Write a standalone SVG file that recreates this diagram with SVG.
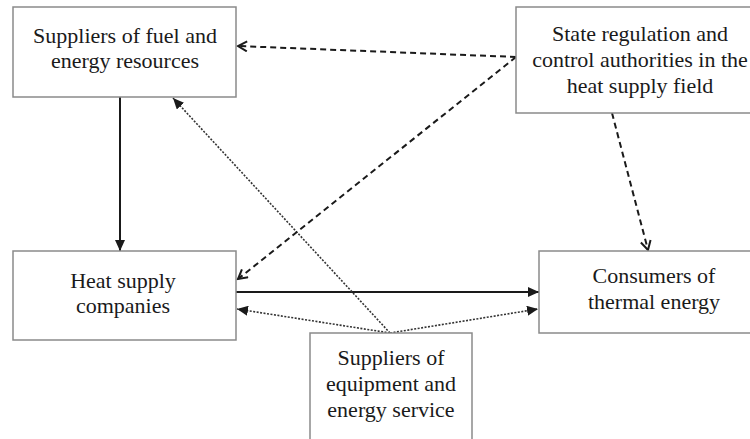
<svg xmlns="http://www.w3.org/2000/svg" width="750" height="439" viewBox="0 0 750 439">
<style>
.box{fill:#fff;stroke:#8a8a8a;stroke-width:1.5}
text{font-family:'Liberation Serif','Times New Roman',Times,serif;font-size:22px;fill:#1a1a1a;text-anchor:middle}
.solid{stroke:#1a1a1a;stroke-width:2;fill:none}
.dot{stroke:#333;stroke-width:1.6;stroke-dasharray:2 1.5;fill:none}
.dash{stroke:#1a1a1a;stroke-width:2;stroke-dasharray:6 4;fill:none}
</style>
<defs>
<marker id="fill" markerUnits="userSpaceOnUse" markerWidth="12" markerHeight="10" refX="11" refY="5" orient="auto">
<path d="M0,0 L11,5 L0,10 Z" fill="#1a1a1a"/>
</marker>
<marker id="open" markerUnits="userSpaceOnUse" markerWidth="12" markerHeight="12" refX="10" refY="6" orient="auto">
<path d="M1,1 L10,6 L1,11" fill="none" stroke="#1a1a1a" stroke-width="2"/>
</marker>
</defs>
<rect width="750" height="439" fill="#fff"/>
<g id="connectors">
<line class="solid" x1="120" y1="97" x2="120" y2="251" marker-end="url(#fill)"/>
<line class="solid" x1="236" y1="292" x2="539" y2="292" marker-end="url(#fill)"/>
<line class="dot" x1="390" y1="333" x2="237" y2="309" marker-end="url(#fill)"/>
<line class="dot" x1="390" y1="333" x2="538" y2="309" marker-end="url(#fill)"/>
<line class="dot" x1="390" y1="333" x2="173" y2="98" marker-end="url(#fill)"/>
<line class="dash" x1="516" y1="57" x2="238" y2="46" marker-end="url(#open)"/>
<line class="dash" x1="516" y1="57" x2="238" y2="279" marker-end="url(#open)"/>
<line class="dash" x1="612" y1="113" x2="648" y2="250" marker-end="url(#open)"/>
</g>
<g id="fuel" font-family="Liberation Serif, serif">
<rect class="box" x="13" y="7" width="223" height="90"/>
<text x="125" y="43">Suppliers of fuel and</text>
<text x="125" y="68">energy resources</text>
</g>
<g id="state">
<rect class="box" x="516" y="7" width="248" height="106"/>
<text x="640" y="41">State regulation and</text>
<text x="640" y="67">control authorities in the</text>
<text x="640" y="93">heat supply field</text>
</g>
<g id="heat">
<rect class="box" x="13" y="251" width="223" height="89"/>
<text x="123" y="288">Heat supply</text>
<text x="123" y="313">companies</text>
</g>
<g id="consumers">
<rect class="box" x="539" y="251" width="230" height="82"/>
<text x="654" y="283">Consumers of</text>
<text x="654" y="309">thermal energy</text>
</g>
<g id="equipment">
<rect class="box" x="310" y="333" width="162" height="120"/>
<text x="391" y="365">Suppliers of</text>
<text x="391" y="391">equipment and</text>
<text x="391" y="417">energy service</text>
</g>
</svg>
